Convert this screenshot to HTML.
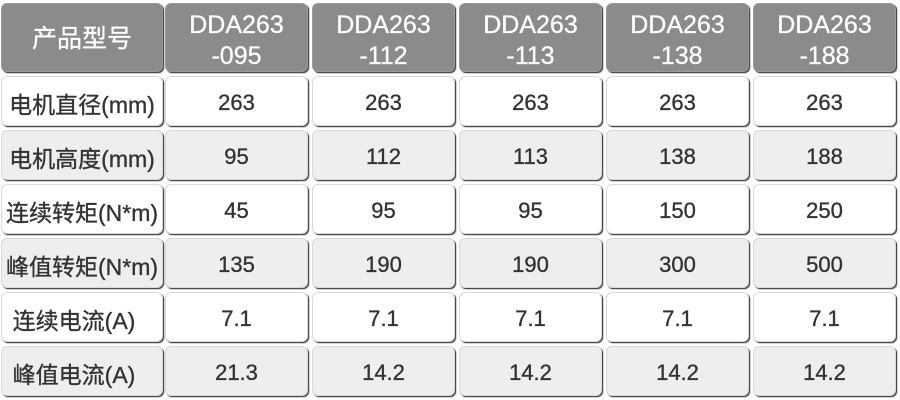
<!DOCTYPE html>
<html>
<head>
<meta charset="utf-8">
<style>
  html, body { margin:0; padding:0; background:#ffffff; }
  body { width:900px; height:400px; position:relative; overflow:hidden;
         font-family:"Liberation Sans","Noto Sans CJK SC",sans-serif; }
  .c { position:absolute; box-sizing:border-box; border-radius:6px;
       border:1px solid #d9d9d9;
       box-shadow:1px 1px 0 #4a4a4a, 1.5px 1.5px 1px rgba(0,0,0,0.35);
       display:flex; align-items:center; justify-content:center; text-align:center; }
  .h { background:#8b8b8b; color:#ffffff; font-size:25px; line-height:31px; border-color:#9a9a9a;
       -webkit-text-stroke:0.3px #ffffff; }
  .w { background:#ffffff; color:#333333; font-size:22px; -webkit-text-stroke:0.35px #333333; }
  .g { background:#eeeeee; color:#333333; font-size:22px; -webkit-text-stroke:0.35px #333333; }
  .lab { font-size:23px; }
  .t { padding-top:3px; }
</style>
</head>
<body>
<!-- header -->
<div class="c h" style="left:1px;top:3px;width:162px;height:69px;"><div style="padding-top:4px">产品型号</div></div>
<div class="c h" style="left:165px;top:3px;width:143px;height:69px;"><div style="padding-top:7px">DDA263<br>-095</div></div>
<div class="c h" style="left:312px;top:3px;width:143px;height:69px;"><div style="padding-top:7px">DDA263<br>-112</div></div>
<div class="c h" style="left:459px;top:3px;width:143px;height:69px;"><div style="padding-top:7px">DDA263<br>-113</div></div>
<div class="c h" style="left:606px;top:3px;width:143px;height:69px;"><div style="padding-top:7px">DDA263<br>-138</div></div>
<div class="c h" style="left:753px;top:3px;width:143px;height:69px;"><div style="padding-top:7px">DDA263<br>-188</div></div>

<!-- row 1 -->
<div class="c w lab" style="left:1px;top:76px;width:162px;height:50px;"><span class="t">电机直径(mm)</span></div>
<div class="c w" style="left:165px;top:76px;width:143px;height:50px;"><span class="t">263</span></div>
<div class="c w" style="left:312px;top:76px;width:143px;height:50px;"><span class="t">263</span></div>
<div class="c w" style="left:459px;top:76px;width:143px;height:50px;"><span class="t">263</span></div>
<div class="c w" style="left:606px;top:76px;width:143px;height:50px;"><span class="t">263</span></div>
<div class="c w" style="left:753px;top:76px;width:143px;height:50px;"><span class="t">263</span></div>

<!-- row 2 -->
<div class="c g lab" style="left:1px;top:130px;width:162px;height:50px;"><span class="t">电机高度(mm)</span></div>
<div class="c g" style="left:165px;top:130px;width:143px;height:50px;"><span class="t">95</span></div>
<div class="c g" style="left:312px;top:130px;width:143px;height:50px;"><span class="t">112</span></div>
<div class="c g" style="left:459px;top:130px;width:143px;height:50px;"><span class="t">113</span></div>
<div class="c g" style="left:606px;top:130px;width:143px;height:50px;"><span class="t">138</span></div>
<div class="c g" style="left:753px;top:130px;width:143px;height:50px;"><span class="t">188</span></div>

<!-- row 3 -->
<div class="c w lab" style="left:1px;top:184px;width:162px;height:50px;"><span class="t">连续转矩(N*m)</span></div>
<div class="c w" style="left:165px;top:184px;width:143px;height:50px;"><span class="t">45</span></div>
<div class="c w" style="left:312px;top:184px;width:143px;height:50px;"><span class="t">95</span></div>
<div class="c w" style="left:459px;top:184px;width:143px;height:50px;"><span class="t">95</span></div>
<div class="c w" style="left:606px;top:184px;width:143px;height:50px;"><span class="t">150</span></div>
<div class="c w" style="left:753px;top:184px;width:143px;height:50px;"><span class="t">250</span></div>

<!-- row 4 -->
<div class="c g lab" style="left:1px;top:238px;width:162px;height:50px;"><span class="t">峰值转矩(N*m)</span></div>
<div class="c g" style="left:165px;top:238px;width:143px;height:50px;"><span class="t">135</span></div>
<div class="c g" style="left:312px;top:238px;width:143px;height:50px;"><span class="t">190</span></div>
<div class="c g" style="left:459px;top:238px;width:143px;height:50px;"><span class="t">190</span></div>
<div class="c g" style="left:606px;top:238px;width:143px;height:50px;"><span class="t">300</span></div>
<div class="c g" style="left:753px;top:238px;width:143px;height:50px;"><span class="t">500</span></div>

<!-- row 5 -->
<div class="c w lab" style="left:1px;top:292px;width:162px;height:50px;"><span class="t" style="padding-right:16px">连续电流(A)</span></div>
<div class="c w" style="left:165px;top:292px;width:143px;height:50px;"><span class="t">7.1</span></div>
<div class="c w" style="left:312px;top:292px;width:143px;height:50px;"><span class="t">7.1</span></div>
<div class="c w" style="left:459px;top:292px;width:143px;height:50px;"><span class="t">7.1</span></div>
<div class="c w" style="left:606px;top:292px;width:143px;height:50px;"><span class="t">7.1</span></div>
<div class="c w" style="left:753px;top:292px;width:143px;height:50px;"><span class="t">7.1</span></div>

<!-- row 6 -->
<div class="c g lab" style="left:1px;top:346px;width:162px;height:50px;"><span class="t" style="padding-right:16px">峰值电流(A)</span></div>
<div class="c g" style="left:165px;top:346px;width:143px;height:50px;"><span class="t">21.3</span></div>
<div class="c g" style="left:312px;top:346px;width:143px;height:50px;"><span class="t">14.2</span></div>
<div class="c g" style="left:459px;top:346px;width:143px;height:50px;"><span class="t">14.2</span></div>
<div class="c g" style="left:606px;top:346px;width:143px;height:50px;"><span class="t">14.2</span></div>
<div class="c g" style="left:753px;top:346px;width:143px;height:50px;"><span class="t">14.2</span></div>
</body>
</html>
